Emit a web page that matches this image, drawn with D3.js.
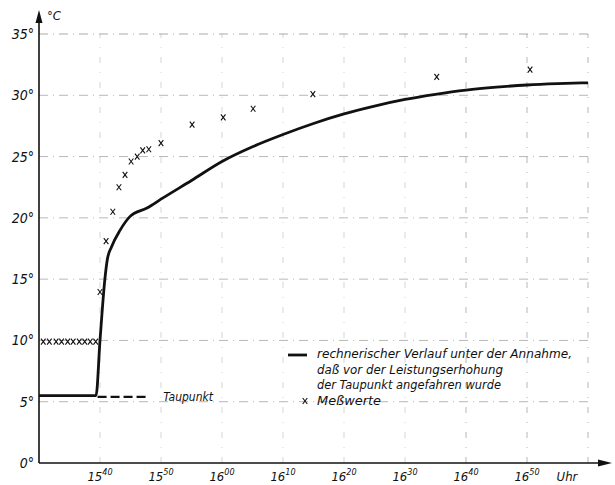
<!DOCTYPE html>
<html>
<head>
<meta charset="utf-8">
<script src="https://d3js.org/d3.v7.min.js"></script>
<style>
body { margin: 0; background: white; }
text { font-family: "DejaVu Sans Condensed", "DejaVu Sans", sans-serif; font-style: italic; fill: #111; }
</style>
</head>
<body>
<svg id="chart" width="615" height="485"></svg>
<script>
// time in minutes after 15:00, temperature in degrees C
const tempTicks = [0, 5, 10, 15, 20, 25, 30, 35];
const timeTicks = [40, 50, 60, 70, 80, 90, 100, 110];
const timeLabels = [["15","40"],["15","50"],["16","00"],["16","10"],["16","20"],["16","30"],["16","40"],["16","50"]];

const curveTime = [30, 39.35, 40.0, 40.8, 41.2, 41.9, 43.3, 44.9, 47.7, 50.4, 55, 60, 65, 70, 75, 80, 85, 90, 95, 100, 105, 110, 115, 120];
const curveTemp = [5.5, 5.5, 10.0, 15.0, 16.6, 17.65, 19.0, 20.1, 20.8, 21.65, 23.05, 24.6, 25.8, 26.8, 27.7, 28.48, 29.12, 29.66, 30.08, 30.42, 30.66, 30.84, 30.95, 31.02];

const measTime = [30.7, 31.7, 32.8, 33.7, 34.7, 35.6, 36.6, 37.5, 38.4, 39.3,
                  40.0, 41.0, 42.1, 43.1, 44.1, 45.1, 46.1, 47.0, 48.0, 50.0, 55.1, 60.2, 65.1, 74.9, 95.2, 110.5];
const measTemp = [9.9, 9.9, 9.9, 9.9, 9.9, 9.9, 9.9, 9.9, 9.9, 9.9,
                  13.95, 18.1, 20.5, 22.5, 23.5, 24.6, 25.0, 25.5, 25.6, 26.1, 27.6, 28.2, 28.9, 30.1, 31.5, 32.1];

const dewTime = [39.6, 47.9];
const dewTemp = [5.4, 5.4];

const legendLines = ["rechnerischer Verlauf unter der Annahme,", "daß vor der Leistungserhohung", "der Taupunkt angefahren wurde"];
const legendWidths = [255, 186, 184];

const svg = d3.select("#chart");
const x = d3.scaleLinear().domain([30, 120]).range([39, 588]);
const y = d3.scaleLinear().domain([0, 35]).range([463, 34]);

// grid, dash-dot
const grid = svg.append("g").attr("stroke", "#888").attr("stroke-width", 0.8).attr("fill", "none");
grid.selectAll(".h").data(tempTicks.slice(1)).enter().append("line")
  .attr("x1", x(30)).attr("x2", x(120))
  .attr("y1", d => y(d)).attr("y2", d => y(d))
  .attr("stroke-dasharray", "9,5,1,5")
  .attr("stroke-opacity", d => d == 35 ? 0.9 : 0.75);
grid.selectAll(".v").data(timeTicks.concat([120])).enter().append("line")
  .attr("x1", d => x(d)).attr("x2", d => x(d))
  .attr("y1", y(0)).attr("y2", y(35))
  .attr("stroke-dasharray", "6,9,1,9")
  .attr("stroke-opacity", d => d >= 100 ? 0.75 : 0.45);

// axes
svg.append("line").attr("x1", x(30)).attr("x2", 604).attr("y1", y(0)).attr("y2", y(0))
  .attr("stroke", "#111").attr("stroke-width", 1.6);
svg.append("line").attr("x1", x(30)).attr("x2", x(30)).attr("y1", y(0)).attr("y2", 18)
  .attr("stroke", "#111").attr("stroke-width", 1.6);
svg.append("path").attr("d", "M" + x(30) + ",10 L" + (x(30) - 3.5) + ",23 L" + (x(30) + 3.5) + ",23 Z").attr("fill", "#111");
svg.append("path").attr("d", "M612," + y(0) + " L598," + (y(0) - 3.5) + " L598," + (y(0) + 3.5) + " Z").attr("fill", "#111");

// tick labels
svg.selectAll(".ylab").data(tempTicks).enter().append("text")
  .attr("x", 34).attr("y", d => y(d) + 5)
  .attr("text-anchor", "end").style("font-size", "14px")
  .text(d => d + "°");
svg.append("text").attr("x", 47).attr("y", 20).style("font-size", "13px").text("°C");

const xl = svg.selectAll(".xlab").data(timeTicks).enter().append("text")
  .attr("x", d => x(d)).attr("y", 481)
  .attr("text-anchor", "middle").style("font-size", "13px");
xl.append("tspan").text((d, i) => timeLabels[i][0]);
xl.append("tspan").attr("dy", -6).style("font-size", "9px").text((d, i) => timeLabels[i][1]);
svg.append("text").attr("x", 567).attr("y", 481).attr("text-anchor", "middle").style("font-size", "13px").text("Uhr");

// calculated curve
const pts = curveTime.map((t, i) => [t, curveTemp[i]]);
svg.append("path").datum(pts)
  .attr("d", d3.line().x(d => x(d[0])).y(d => y(d[1])).curve(d3.curveMonotoneX))
  .attr("fill", "none").attr("stroke", "#111").attr("stroke-width", 2.8);

// dew point
svg.append("line")
  .attr("x1", x(dewTime[0])).attr("x2", x(dewTime[1]))
  .attr("y1", y(dewTemp[0])).attr("y2", y(dewTemp[1]))
  .attr("stroke", "#111").attr("stroke-width", 2.2).attr("stroke-dasharray", "9,4");
svg.append("text").attr("x", x(dewTime[1]) + 15).attr("y", y(dewTemp[1]) + 4)
  .style("font-size", "12px").text("Taupunkt");

// measured values
const cross = "M-2.3,-3 L2.3,3 M2.3,-3 L-2.3,3";
svg.selectAll(".m").data(measTime).enter().append("path")
  .attr("transform", (d, i) => "translate(" + x(d) + "," + y(measTemp[i]) + ")")
  .attr("d", cross).attr("stroke", "#111").attr("stroke-width", 1.1).attr("fill", "none");

// legend
svg.append("line").attr("x1", 288).attr("x2", 307).attr("y1", 355).attr("y2", 355)
  .attr("stroke", "#111").attr("stroke-width", 2.8);
svg.selectAll(".leg").data(legendLines).enter().append("text")
  .attr("x", 317).attr("y", (d, i) => 358 + i * 15.5)
  .attr("textLength", (d, i) => legendWidths[i]).attr("lengthAdjust", "spacingAndGlyphs")
  .style("font-size", "13px").text(d => d);
svg.append("path").attr("transform", "translate(305,401)").attr("d", cross)
  .attr("stroke", "#111").attr("stroke-width", 1.1).attr("fill", "none");
svg.append("text").attr("x", 317).attr("y", 405).attr("textLength", 64).attr("lengthAdjust", "spacingAndGlyphs")
  .style("font-size", "13px").text("Meßwerte");
</script>
</body>
</html>
